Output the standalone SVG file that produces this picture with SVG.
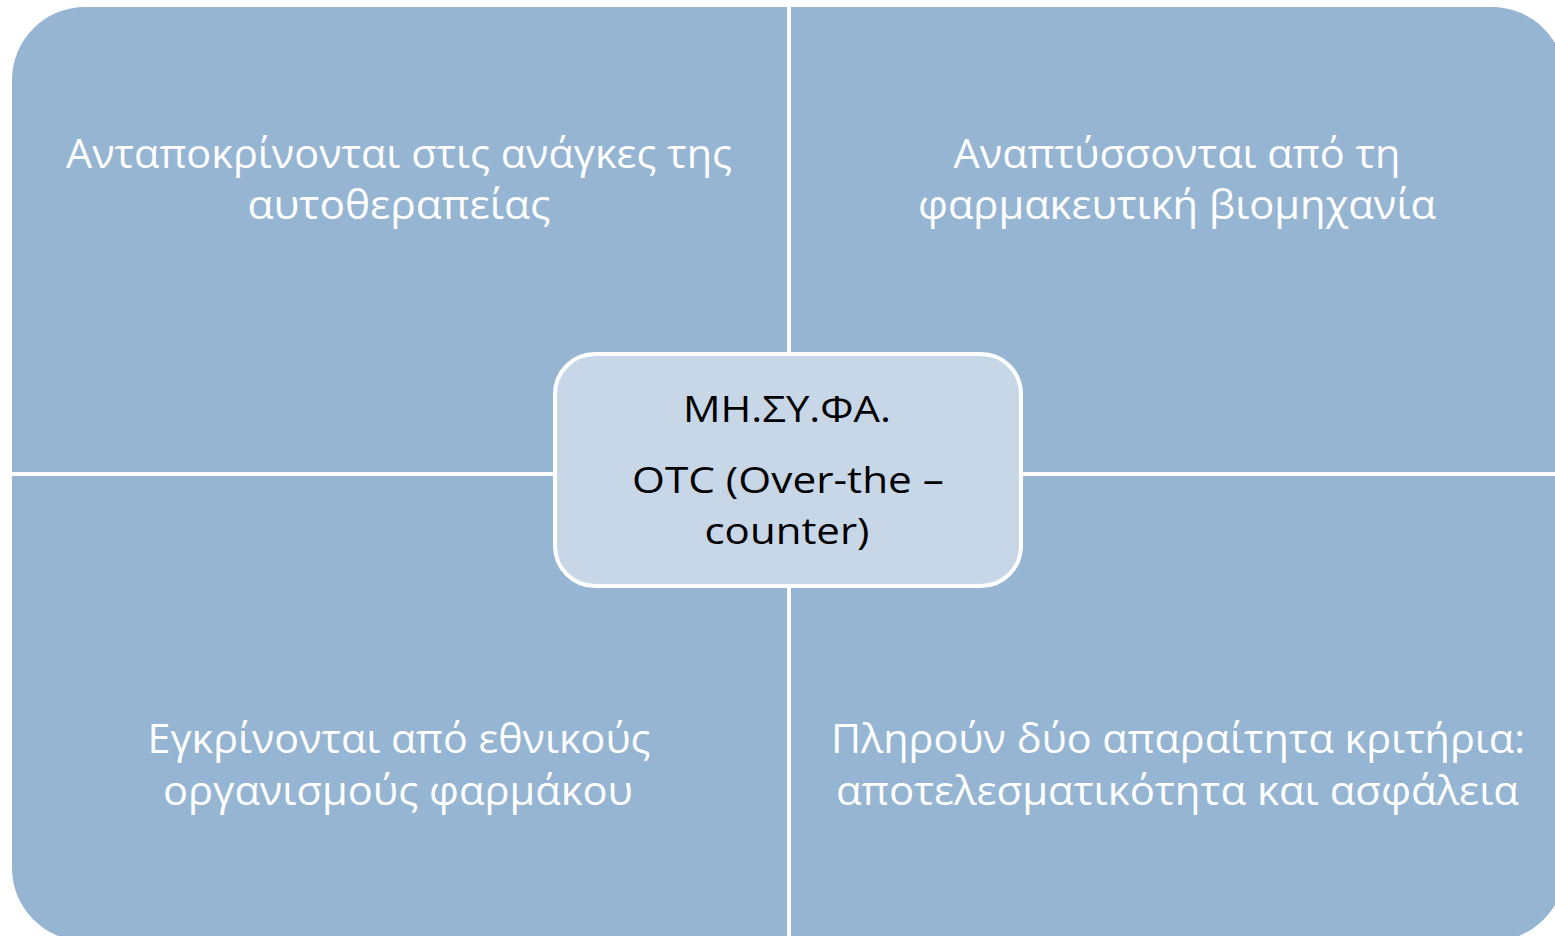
<svg xmlns="http://www.w3.org/2000/svg" width="1555" height="936" viewBox="0 0 1555 936">
<style>
.q{fill:#95b5d3;}
.t{font-family:"Open Sans","Noto Sans","DejaVu Sans",sans-serif;font-size:41px;fill:#ffffff;text-anchor:middle;}
.c{font-family:"Open Sans","Noto Sans","DejaVu Sans",sans-serif;font-size:37px;fill:#000000;text-anchor:middle;}
</style>
<rect width="1555" height="936" fill="#ffffff"/>
<g id="quad-tl">
<path class="q" d="M12,80 A73,73 0 0 1 85,7 L787,7 L787,472 L12,472 Z"/>
<text class="t" x="399" y="168" textLength="666" lengthAdjust="spacingAndGlyphs">Ανταποκρίνονται στις ανάγκες της</text>
<text class="t" x="399" y="219" textLength="303" lengthAdjust="spacingAndGlyphs">αυτοθεραπείας</text>
</g>
<g id="quad-tr">
<path class="q" d="M791,7 L1492,7 A73,73 0 0 1 1565,80 L1565,472 L791,472 Z"/>
<text class="t" x="1177" y="168" textLength="447" lengthAdjust="spacingAndGlyphs">Αναπτύσσονται από τη</text>
<text class="t" x="1177" y="219" textLength="518" lengthAdjust="spacingAndGlyphs">φαρμακευτική βιομηχανία</text>
</g>
<g id="quad-bl">
<path class="q" d="M12,476 L787,476 L787,941 L85,941 A73,73 0 0 1 12,868 Z"/>
<text class="t" x="399" y="753" textLength="503" lengthAdjust="spacingAndGlyphs">Εγκρίνονται από εθνικούς</text>
<text class="t" x="398" y="805" textLength="470" lengthAdjust="spacingAndGlyphs">οργανισμούς φαρμάκου</text>
</g>
<g id="quad-br">
<path class="q" d="M791,476 L1565,476 L1565,868 A73,73 0 0 1 1492,941 L791,941 Z"/>
<text class="t" x="1178" y="753" textLength="694" lengthAdjust="spacingAndGlyphs">Πληρούν δύο απαραίτητα κριτήρια:</text>
<text class="t" x="1177.5" y="805" textLength="683" lengthAdjust="spacingAndGlyphs">αποτελεσματικότητα και ασφάλεια</text>
</g>
<g id="connectors"></g>
<g id="center">
<rect x="555" y="354" width="466" height="232" rx="40" ry="40" fill="#c7d7e7" stroke="#ffffff" stroke-width="4"/>
<text class="c" x="787" y="422" textLength="208" lengthAdjust="spacingAndGlyphs">ΜΗ.ΣΥ.ΦΑ.</text>
<text class="c" x="788" y="493" textLength="312" lengthAdjust="spacingAndGlyphs">OTC (Over-the –</text>
<text class="c" x="787" y="544" textLength="165" lengthAdjust="spacingAndGlyphs">counter)</text>
</g>
</svg>
